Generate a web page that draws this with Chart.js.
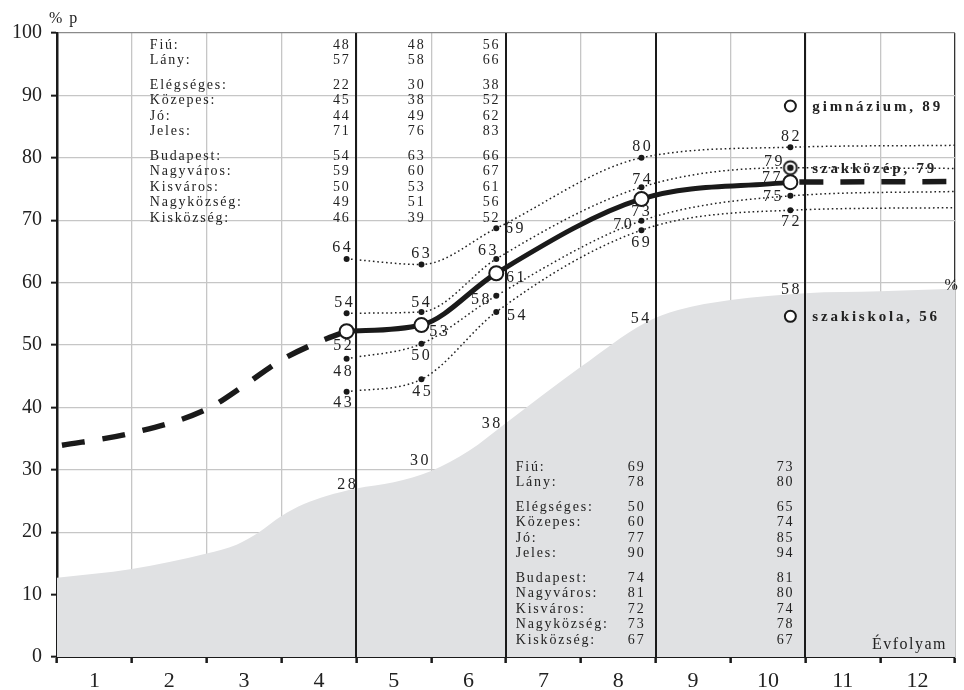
<!DOCTYPE html>
<html>
<head>
<meta charset="utf-8">
<script src="https://cdn.jsdelivr.net/npm/chart.js@4.4.1/dist/chart.umd.min.js"></script>
<style>
  html, body { margin: 0; padding: 0; background: #fff; }
  #wrap { width: 964px; height: 690px; position: relative; }
</style>
</head>
<body>
<div id="wrap"><canvas id="chart"></canvas></div>
<script>
// x positions of the measured grades (x axis runs 0..12, one unit per grade)
const gradeX = [3.87, 4.87, 5.87, 7.81, 9.8];
const endX = 12;

// main (thick) line, %
const mainValues = [52.2, 53.2, 61.5, 73.4, 76.1];
const mainEnd = 76.2;
const mainLabels = ['52', '53', '61', '73', '77'];

// dashed trend before grade 4
const trendX = [0, 1, 2, 2.5, 3, 3.5, 3.87];
const trendValues = [33.8, 35.9, 39.7, 43.5, 47.6, 50.5, 52.2];

// dotted lines (last value is the right edge)
const lineA = [63.8, 62.9, 68.7, 80.0, 81.7, 82.0];
const lineALabels = ['64', '63', '69', '80', '82'];
const lineB = [55.1, 55.3, 63.8, 75.3, 78.4, 78.3];
const lineBLabels = ['54', '54', '63', '74', '79'];
const lineC = [47.8, 50.2, 57.9, 69.9, 73.9, 74.6];
const lineCLabels = ['48', '50', '58', '70', '75'];
const lineD = [42.5, 44.5, 55.3, 68.4, 71.6, 72.0];
const lineDLabels = ['43', '45', '54', '69', '72'];

// grey area
const areaX = [0, 1, 2, 2.4, 2.7, 3, 3.3, 3.6, 4, 4.5, 5, 5.5, 6, 7, 7.85, 8.3, 9, 10, 11, 12];
const areaValues = [12.7, 14.1, 16.6, 18.0, 20.0, 22.6, 24.5, 25.8, 27, 28, 29.8, 33, 37.5, 46.5, 53.5, 55.6, 57.2, 58.3, 58.6, 59];
const areaLabelX = [3.87, 4.84, 5.8, 7.79, 9.8];
const areaLabels = [28, 30, 38, 54, 58];

// school types at grade 10
const schoolX = 9.8;
const schoolValues = [88.3, 78.4, 54.6];
const schoolLabels = ['gimnázium, 89', 'szakközép, 79', 'szakiskola, 56'];

const xTickLabels = ['1', '2', '3', '4', '5', '6', '7', '8', '9', '10', '11', '12'];
const sectionLines = [4, 6, 8, 10];

const rowLabels = ['Fiú:', 'Lány:', 'Elégséges:', 'Közepes:', 'Jó:', 'Jeles:',
  'Budapest:', 'Nagyváros:', 'Kisváros:', 'Nagyközség:', 'Kisközség:'];
const upperCols = [
  [48, 57, 22, 45, 44, 71, 54, 59, 50, 49, 46],
  [48, 58, 30, 38, 49, 76, 63, 60, 53, 51, 39],
  [56, 66, 38, 52, 62, 83, 66, 67, 61, 56, 52]
];
const lowerCols = [
  [69, 78, 50, 60, 77, 90, 74, 81, 72, 73, 67],
  [73, 80, 65, 74, 85, 94, 81, 80, 74, 78, 67]
];

const ink = '#1a1a1a';
const serif = '"Liberation Serif", "DejaVu Serif", serif';

const pts = (xs, ys) => xs.map((x, i) => ({ x: x, y: ys[i] }));
const withEnd = (vals) => pts(gradeX.concat([endX]), vals);

function bullseye() {
  const c = document.createElement('canvas');
  c.width = 18; c.height = 18;
  const g = c.getContext('2d');
  g.beginPath(); g.arc(9, 9, 6.5, 0, Math.PI * 2);
  g.fillStyle = '#fff'; g.fill();
  g.lineWidth = 2; g.strokeStyle = ink; g.stroke();
  g.beginPath(); g.arc(9, 9, 3.3, 0, Math.PI * 2);
  g.fillStyle = ink; g.fill();
  return c;
}

function dotted(vals) {
  return {
    data: withEnd(vals),
    borderColor: '#222', borderWidth: 1.5, borderDash: [1.6, 2.8],
    pointRadius: [3, 3, 3, 3, 3, 0], pointBackgroundColor: ink, pointBorderWidth: 0,
    cubicInterpolationMode: 'monotone', order: 6
  };
}

// label offsets in px from the point they belong to
const labelSets = [
  { x: gradeX, y: lineA, text: lineALabels, off: [[-5, -11], [-1, -11], [18, 0], [0, -11], [0, -10]] },
  { x: gradeX, y: lineB, text: lineBLabels, off: [[-3, -10], [-1, -9], [-9, -8], [0, -7], [-17, -6]] },
  { x: gradeX, y: lineC, text: lineCLabels, off: [[-4, 13], [-1, 12], [-16, 4], [-19, 4], [-18, 1]] },
  { x: gradeX, y: lineD, text: lineDLabels, off: [[-4, 11], [0, 12], [20, 4], [-1, 13], [0, 12]] },
  { x: gradeX, y: mainValues, text: mainLabels, off: [[-4, 15], [17, 7], [19, 5], [-1, 13], [-19, -4]] },
  { x: areaLabelX, y: areaLabels, text: areaLabels.map(String), off: [[0, 3], [0, -9], [0, 4], [0, -1], [0, -5]] }
];

const textPlugin = {
  id: 'texts',
  afterDatasetsDraw(chart) {
    const { ctx, scales: { x, y }, chartArea } = chart;
    ctx.save();
    ctx.fillStyle = '#222';
    ctx.textBaseline = 'middle';

    // point labels
    ctx.font = '16px ' + serif;
    ctx.letterSpacing = '2.5px';
    ctx.textAlign = 'center';
    labelSets.forEach(set => {
      set.text.forEach((t, i) => {
        const [dx, dy] = set.off[i];
        ctx.fillText(t, x.getPixelForValue(set.x[i]) + dx + 1.2, y.getPixelForValue(set.y[i]) + dy);
      });
    });

    // tables
    ctx.font = '14px ' + serif;
    ctx.letterSpacing = '1.8px';
    const rowY = (top, i) => top + i * 15.5 + (i >= 2 ? 9 : 0) + (i >= 6 ? 9 : 0);
    const table = (labelX, top, colX, cols) => {
      rowLabels.forEach((lab, i) => {
        ctx.textAlign = 'left';
        ctx.fillText(lab, x.getPixelForValue(labelX), rowY(top, i));
        ctx.textAlign = 'right';
        cols.forEach((col, c) => {
          ctx.fillText(String(col[i]), x.getPixelForValue(colX[c]) + 4, rowY(top, i));
        });
      });
    };
    table(1.24, chartArea.top + 12, gradeX.slice(0, 3), upperCols);
    table(6.13, chartArea.top + 434, gradeX.slice(3), lowerCols);

    // school type labels
    ctx.font = 'bold 15px ' + serif;
    ctx.letterSpacing = '2.8px';
    ctx.textAlign = 'left';
    schoolLabels.forEach((t, i) => {
      ctx.fillText(t, x.getPixelForValue(schoolX) + 22, y.getPixelForValue(schoolValues[i]) + 1);
    });

    // axis captions
    ctx.font = '16px ' + serif;
    ctx.letterSpacing = '1.5px';
    ctx.textAlign = 'right';
    ctx.fillText('Évfolyam', chartArea.right - 8, chartArea.bottom - 12);
    ctx.textAlign = 'left';
    ctx.fillText('% p', 49, 19);
    ctx.textAlign = 'center';
    ctx.fillText('%', chartArea.right - 3, y.getPixelForValue(59.5));
    ctx.restore();
  }
};

new Chart(document.getElementById('chart'), {
  type: 'line',
  data: {
    datasets: [
      {
        label: 'area', data: pts(areaX, areaValues),
        fill: 'origin', backgroundColor: '#e0e1e3', borderWidth: 0, borderColor: 'rgba(0,0,0,0)',
        pointRadius: 0, cubicInterpolationMode: 'monotone', order: 10
      },
      dotted(lineA), dotted(lineB), dotted(lineC), dotted(lineD),
      {
        label: 'trend', data: pts(trendX, trendValues),
        borderColor: ink, borderWidth: 5.5, borderDash: [23, 18], borderDashOffset: 36,
        pointRadius: 0, cubicInterpolationMode: 'monotone', order: 4
      },
      {
        label: 'tail', data: pts([gradeX[4], endX], [mainValues[4], mainEnd]),
        borderColor: ink, borderWidth: 5.5, borderDash: [24, 17], borderDashOffset: 32,
        pointRadius: 0, order: 4
      },
      {
        label: 'main', data: pts(gradeX, mainValues),
        borderColor: ink, borderWidth: 5,
        pointRadius: 7, pointBackgroundColor: '#fff', pointBorderColor: ink, pointBorderWidth: 2,
        cubicInterpolationMode: 'monotone', order: 3
      },
      {
        label: 'schools', data: schoolValues.map(v => ({ x: schoolX, y: v })), showLine: false,
        pointStyle: ['circle', bullseye(), 'circle'],
        pointRadius: 5.5, pointBackgroundColor: '#fff', pointBorderColor: ink, pointBorderWidth: 2, order: 2
      }
    ]
  },
  options: {
    responsive: true,
    maintainAspectRatio: false,
    animation: false,
    layout: { padding: { top: 33, right: 6, left: 0, bottom: 0 } },
    plugins: { legend: { display: false }, tooltip: { enabled: false } },
    scales: {
      x: {
        type: 'linear', min: 0, max: 12, position: 'bottom',
        afterBuildTicks: s => { s.ticks = []; for (let v = 0; v <= 24; v++) s.ticks.push({ value: v / 2 }); },
        ticks: {
          autoSkip: false, maxRotation: 0, padding: 5, color: '#222',
          font: { family: serif, size: 22 },
          callback: v => Number.isInteger(v) ? '' : xTickLabels[Math.floor(v)]
        },
        grid: {
          color: c => !Number.isInteger(c.tick.value) ? 'rgba(0,0,0,0)' : (c.tick.value === 12 ? '#333' : '#c6c6c6'),
          lineWidth: 1.3, tickLength: 6, tickWidth: 2.5,
          tickColor: c => Number.isInteger(c.tick.value) ? ink : 'rgba(0,0,0,0)'
        },
        border: { color: ink, width: 2 },
        afterFit: s => { s.height = 33; }
      },
      xg: {
        type: 'linear', min: 0, max: 12, position: 'bottom',
        afterBuildTicks: s => { s.ticks = sectionLines.map(v => ({ value: v })); },
        ticks: { display: false },
        grid: { z: 1, color: ink, lineWidth: 2, drawTicks: false },
        border: { display: false },
        afterFit: s => { s.height = 0; }
      },
      y: {
        min: 0, max: 100,
        ticks: { stepSize: 10, padding: 9, color: '#222', font: { family: serif, size: 20 } },
        grid: {
          color: c => c.tick.value === 100 ? '#8a8a8a' : '#c6c6c6',
          lineWidth: 1.3, tickLength: 6, tickWidth: 2, tickColor: ink
        },
        border: { color: ink, width: 2.5 },
        afterFit: s => { s.width = 57; }
      }
    }
  },
  plugins: [textPlugin]
});
</script>
</body>
</html>
